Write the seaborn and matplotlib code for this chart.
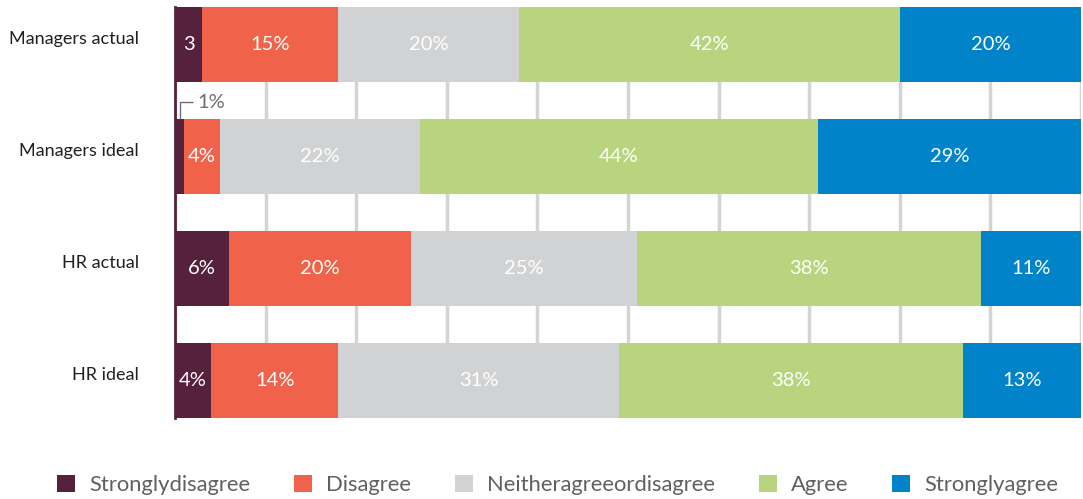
import numpy as np
import pandas as pd
import matplotlib.pyplot as plt
import matplotlib.transforms as mtransforms
import seaborn as sns
from matplotlib.patches import Patch

groups = ['Managers actual', 'Managers ideal', 'HR actual', 'HR ideal']
levels = ['Stronglydisagree', 'Disagree', 'Neitheragreeordisagree', 'Agree', 'Stronglyagree']
strongly_disagree = [3, 1, 6, 4]
disagree = [15, 4, 20, 14]
neither = [20, 22, 25, 31]
agree = [42, 44, 38, 38]
strongly_agree = [20, 29, 11, 13]
# text shown inside the first segment ('' = labelled outside the bar)
sd_labels = ['3', '', '6%', '4%']
colors = ['#55213D', '#F0624A', '#D1D2D4', '#B8D47E', '#0083C9']

df = pd.DataFrame({'group': groups,
                   levels[0]: strongly_disagree, levels[1]: disagree,
                   levels[2]: neither, levels[3]: agree, levels[4]: strongly_agree})
cum = df[levels].cumsum(axis=1)

sns.set_style('white')
plt.rcParams['font.family'] = ['Lato', 'DejaVu Sans']

fig = plt.figure(figsize=(10.83, 4.99), dpi=100)
ax = fig.add_axes([175/1083, 1 - 418/499, 906/1083, 411/499])

bar_h = 0.67
# draw cumulative totals from the back so that earlier segments sit on top
for lev, col in reversed(list(zip(levels, colors))):
    sns.barplot(x=cum[lev], y=df['group'], orient='h', color=col,
                width=bar_h, saturation=1, ax=ax, zorder=3,
                edgecolor='none', linewidth=0)

# segment labels
for i, g in enumerate(groups):
    for j, lev in enumerate(levels):
        v = df.loc[i, lev]
        left = cum.loc[i, lev] - v
        txt = f'{v}%'
        if j == 0:
            txt = sd_labels[i]
        if txt:
            ax.text(left + v / 2, i, txt, ha='center', va='center',
                    color='white', fontsize=14.5, zorder=5)

# leader for the tiny 1% segment
i = 1
v = strongly_disagree[i]
top = i - bar_h / 2
ly = top - 0.15
ax.plot([v / 2, v / 2, v / 2 + 1.5], [top, ly, ly], color='#6D6E71', lw=1, zorder=5,
        clip_on=False, solid_capstyle='butt')
ax.text(v / 2 + 2.0, ly, f'{v}%', ha='left', va='center', color='#6D6E71',
        fontsize=14.5, zorder=5)

ax.set_xlim(0, 100)
ax.set_ylim(3 + bar_h / 2, -bar_h / 2)
ax.set_xticks(np.arange(0, 101, 10))
ax.set_xticklabels([])
ax.xaxis.grid(True, color='#D4D4D4', lw=2.5, linestyle='-')
ax.yaxis.grid(False)
ax.set_axisbelow(True)
ax.set_xlabel('')
ax.set_ylabel('')
for s in ['top', 'right', 'bottom']:
    ax.spines[s].set_visible(False)
ax.spines['left'].set_color(colors[0])
ax.spines['left'].set_linewidth(2)
ax.spines['left'].set_zorder(6)
ax.tick_params(axis='both', length=0)
ax.tick_params(axis='y', pad=26)
offset = mtransforms.ScaledTranslation(0, 5 / 72, fig.dpi_scale_trans)
for lab in ax.get_yticklabels():
    lab.set_fontsize(13)
    lab.set_color('#231F20')
    lab.set_transform(lab.get_transform() + offset)

handles = [Patch(facecolor=c, edgecolor='none') for c in colors]
fig.legend(handles, levels, loc='center', bbox_to_anchor=(0.515, 1 - 485 / 499),
           ncol=5, frameon=False, fontsize=15.8, handlelength=0.82, handleheight=0.82,
           handletextpad=0.64, columnspacing=2.0, labelcolor='#5F6062')

fig.savefig('out.png', dpi=100)
